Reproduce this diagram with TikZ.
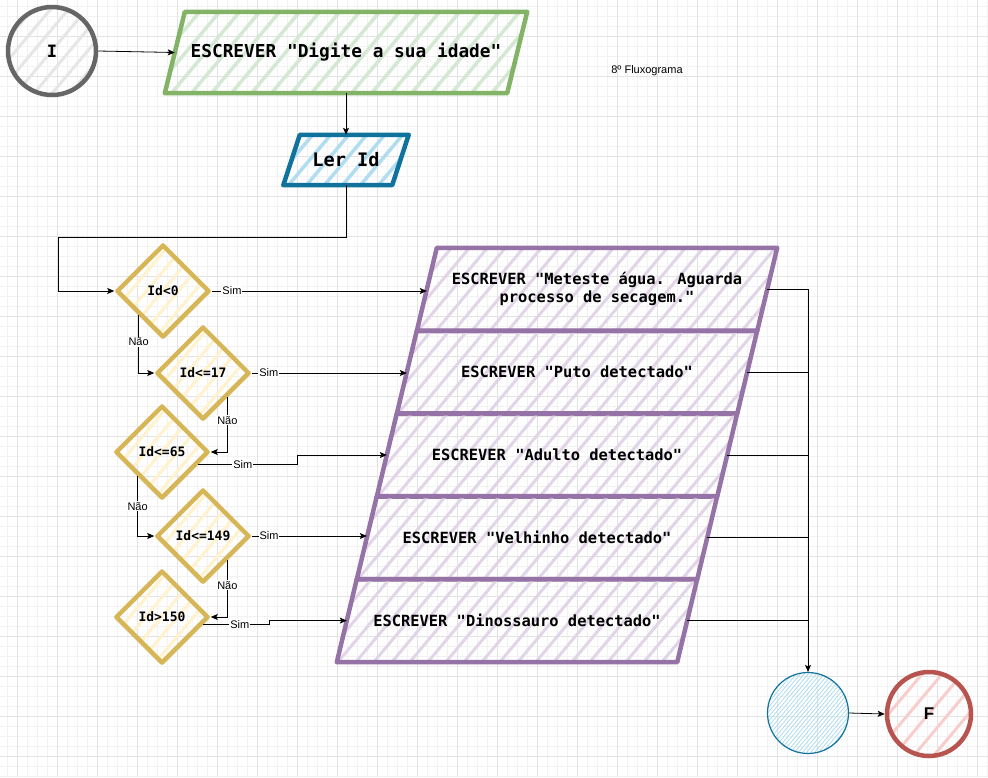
\documentclass[tikz,border=0pt]{standalone}
\usepackage{fontspec}
\setmainfont{Liberation Sans}
\newfontfamily\monof{DejaVu Sans Mono}
\usetikzlibrary{shapes.geometric,arrows.meta,calc}
\pgfdeclarelayer{gridlayer}\pgfdeclarelayer{bglayer}
\pgfsetlayers{gridlayer,bglayer,main}
\definecolor{gridmaj}{HTML}{E3E3E3}
\definecolor{gridmin}{HTML}{F2F2F2}
\definecolor{grnS}{HTML}{82B366}\definecolor{grnF}{HTML}{D5E8D4}
\definecolor{bluS}{HTML}{10739E}\definecolor{bluF}{HTML}{B1DDF0}
\definecolor{yelS}{HTML}{D6B656}\definecolor{yelF}{HTML}{FFF2CC}
\definecolor{purS}{HTML}{9673A6}\definecolor{purF}{HTML}{E1D5E7}
\definecolor{redS}{HTML}{B85450}\definecolor{redF}{HTML}{F8CECC}
\definecolor{gryS}{HTML}{666666}\definecolor{gryF}{HTML}{E6E6E6}
\tikzset{
  hatch/.style n args={3}{path picture={
    \foreach \k in {-22,...,22}{
      \draw[draw=#1, line width=#2] (path picture bounding box.center) ++(\k*#3-257pt,-306pt) -- ++(514pt,613pt);
    }}},
  ptext/.style={rectangle, inner sep=0pt, align=center},
  pshape/.style={line width=4.5pt, line join=round},
  pbox/.style={ptext, minimum width=340, minimum height=82.8,
    font=\monof\bfseries\fontsize{15.4}{18}\selectfont},
  dec/.style={diamond, aspect=1, inner sep=0pt, minimum width=93, minimum height=93, draw=yelS,
    line width=4.5pt, line join=round, hatch={yelF}{3pt}{16pt},
    font=\monof\bfseries\fontsize{13}{15}\selectfont},
  arr/.style={draw=black, line width=0.8pt, -{Stealth[length=7pt,width=6pt,inset=1.5pt]}},
  lin/.style={draw=black, line width=0.8pt},
  lbl/.style={fill=white, inner sep=1pt, font=\fontsize{11}{13}\selectfont},
}
\newcommand\paraPath[3]{\path[#3] ($(#1.north west)+(#2,0)$) -- ($(#1.north east)+(#2,0)$) -- ($(#1.south east)+(-#2,0)$) -- ($(#1.south west)+(-#2,0)$) -- cycle;}
\begin{document}
\begin{tikzpicture}[x=1pt,y=-1pt]
\useasboundingbox (0,0) rectangle (988,777);
\begin{pgfonlayer}{gridlayer}
\fill[white] (0,0) rectangle (988,777);
\foreach \x in {7,17,...,987} \draw[gridmin, line width=0.8pt] (\x,0) -- (\x,777);
\foreach \y in {6,16,...,776} \draw[gridmin, line width=0.8pt] (0,\y) -- (988,\y);
\foreach \x in {17,57,...,977} \draw[gridmaj, line width=0.8pt] (\x,0) -- (\x,777);
\foreach \y in {36,76,...,756} \draw[gridmaj, line width=0.8pt] (0,\y) -- (988,\y);
\end{pgfonlayer}

% start
\node[circle, draw=gryS, line width=4.5pt, minimum size=88, hatch={gryF}{3pt}{18pt},
  font=\monof\bfseries\fontsize{17}{20}\selectfont] (st) at (52,51) {I};
% input / output text nodes (shapes drawn behind)
\node[ptext, minimum width=342, minimum height=81,
  font=\monof\bfseries\fontsize{17.8}{21}\selectfont] (g) at (346,52.5) {ESCREVER "Digite a sua idade"};
\node[font=\fontsize{11}{13}\selectfont] (ttl) at (647,71) {8º Fluxograma};
\node[ptext, minimum width=108.5, minimum height=50,
  font=\monof\bfseries\fontsize{18.6}{21}\selectfont] (ler) at (346,160) {Ler Id};

% decisions
\node[dec] (d1) at (163,291) {Id<0};
\node[dec] (d2) at (203,373) {Id<=17};
\node[dec] (d3) at (162,452) {Id<=65};
\node[dec] (d4) at (203,536) {Id<=149};
\node[dec] (d5) at (162,617) {Id>150};

% output boxes
\node[pbox] (b1) at (597,289.4) {ESCREVER "Meteste água. Aguarda\\processo de secagem."};
\node[pbox] (b2) at (577,372.2) {ESCREVER "Puto detectado"};
\node[pbox] (b3) at (557,455.0) {ESCREVER "Adulto detectado"};
\node[pbox] (b4) at (537,537.8) {ESCREVER "Velhinho detectado"};
\node[pbox] (b5) at (517,620.6) {ESCREVER "Dinossauro detectado"};

\begin{pgfonlayer}{bglayer}
\paraPath{g}{10}{pshape, draw=grnS, hatch={grnF}{3.5pt}{20pt}}
\paraPath{ler}{8.25}{pshape, draw=bluS, hatch={bluF}{3.5pt}{18pt}}
\foreach \n in {b1,b2,b3,b4,b5}{\paraPath{\n}{10}{pshape, draw=purS, hatch={purF}{3pt}{18pt}}}
\end{pgfonlayer}

% end nodes
\node[circle, draw=bluS, line width=1.2pt, minimum size=81, hatch={bluF}{0.8pt}{4pt}] (endc) at (808,713) {};
\node[circle, draw=redS, line width=4.5pt, minimum size=84, hatch={redF}{3pt}{20pt},
  font=\bfseries\fontsize{17}{20}\selectfont] (fim) at (929,714) {F};

% connectors
\draw[arr] (st.east) -- (g.west);
\draw[arr] (g.south) -- (ler.north);
\draw[arr] (ler.south) |- ++(-288,52) |- (d1.west);

\draw[arr] (d1.east) -- node[lbl, pos=0.094] {Sim} (d1.east -| b1.west);
\draw[arr] (d2.east) -- node[lbl, pos=0.11] {Sim} (d2.east -| b2.west);
\draw[arr] (d3.-19) -- node[lbl, pos=0.45] {Sim} ++(99,0) |- (b3.west);
\draw[arr] (d4.east) -- node[lbl, pos=0.15] {Sim} (d4.east -| b4.west);
\draw[arr] (d5.-10) -- node[lbl, pos=0.55] {Sim} ++(66,0) |- (b5.west);

\draw[arr] (d1.south west) |- node[lbl, pos=0.23] {Não} (d2.west);
\draw[arr] (d2.south east) |- node[lbl, pos=0.21] {Não} (d3.east);
\draw[arr] (d3.south west) |- node[lbl, pos=0.25] {Não} (d4.west);
\draw[arr] (d4.south east) |- node[lbl, pos=0.22] {Não} (d5.east);

\draw[arr] (b1.east) -| (endc.north);
\draw[lin] (b2.east) -- (b2.east -| endc.north);
\draw[lin] (b3.east) -- (b3.east -| endc.north);
\draw[lin] (b4.east) -- (b4.east -| endc.north);
\draw[lin] (b5.east) -- (b5.east -| endc.north);
\draw[arr] (endc.east) -- (fim.west);
\end{tikzpicture}
\end{document}
